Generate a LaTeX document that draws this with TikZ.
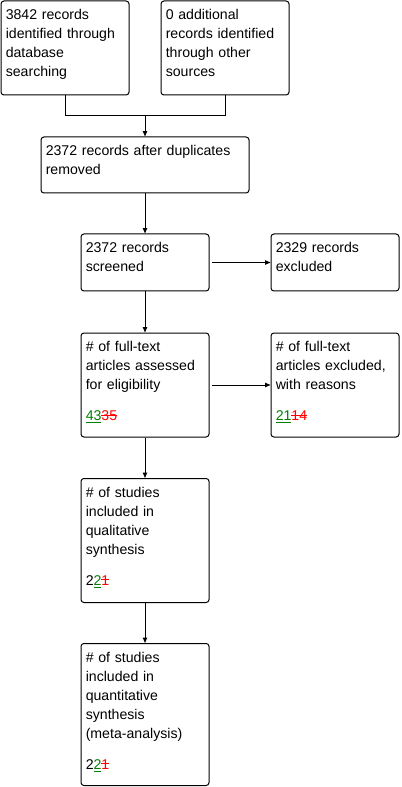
\documentclass[tikz,border=0pt]{standalone}
\usepackage{fontspec}
\setmainfont{Liberation Sans}
\usetikzlibrary{arrows.meta,calc}
\definecolor{okgreen}{RGB}{0,128,0}
\definecolor{badred}{RGB}{255,0,0}
\newsavebox\numbox
\newcommand{\addnum}[1]{\sbox\numbox{#1}\textcolor{okgreen}{\rlap{\rule[-2pt]{\wd\numbox}{0.75pt}}#1}}
\newcommand{\delnum}[1]{\sbox\numbox{#1}\textcolor{badred}{\rlap{\rule[3.4pt]{\wd\numbox}{0.75pt}}#1}}
\begin{document}
\begin{tikzpicture}[x=0.75pt,y=-0.75pt,
  box/.style={draw, line width=0.75pt, rounded corners=2.2pt, inner sep=0pt, rectangle},
  txt/.style={anchor=base west, inner sep=0pt, align=left, text width=118*0.75pt,
     font=\fontsize{10.6pt}{14.25pt}\selectfont},
  arr/.style={line width=0.75pt, -{Triangle[length=4pt,width=3.2pt]}},
  ln/.style={line width=0.75pt}]
\useasboundingbox (0,0) rectangle (402,787);
% boxes
\node[box, minimum width=128*0.75pt, minimum height=94*0.75pt] (A) at (65,48) {};
\node[box, minimum width=128*0.75pt, minimum height=94*0.75pt] (B) at (225,48) {};
\node[box, minimum width=208*0.75pt, minimum height=56*0.75pt] (C) at (145,165) {};
\node[box, minimum width=128*0.75pt, minimum height=57*0.75pt] (D) at (145,262.5) {};
\node[box, minimum width=128*0.75pt, minimum height=57*0.75pt] (E) at (335,262.5) {};
\node[box, minimum width=128*0.75pt, minimum height=104*0.75pt] (F) at (145,385) {};
\node[box, minimum width=128*0.75pt, minimum height=104*0.75pt] (G) at (335,385) {};
\node[box, minimum width=128*0.75pt, minimum height=124*0.75pt] (H) at (145,540.5) {};
\node[box, minimum width=128*0.75pt, minimum height=142*0.75pt] (I) at (145,714.5) {};
% texts
\node[txt] (At) at ($(A.north west)+(5,19)$) {3842 records\\identified through\\database\\searching};
\node[txt] (Bt) at ($(B.north west)+(5,19)$) {0 additional\\records identified\\through other\\sources};
\node[txt, text width=198*0.75pt] (Ct) at ($(C.north west)+(5,19)$) {2372 records after duplicates\\removed};
\node[txt] (Dt) at ($(D.north west)+(5,19)$) {2372 records\\screened};
\node[txt] (Et) at ($(E.north west)+(5,19)$) {2329 records\\excluded};
\node[txt] (Ft) at ($(F.north west)+(5,19)$) {\# of full-text\\articles assessed\\for eligibility\\[9pt]\addnum{43}\delnum{35}};
\node[txt] (Gt) at ($(G.north west)+(5,19)$) {\# of full-text\\articles excluded,\\with reasons\\[9pt]\addnum{21}\delnum{14}};
\node[txt] (Ht) at ($(H.north west)+(5,19)$) {\# of studies\\included in\\qualitative\\synthesis\\[9pt]2\addnum{2}\delnum{1}};
\node[txt] (It) at ($(I.north west)+(5,19)$) {\# of studies\\included in\\quantitative\\synthesis\\(meta-analysis)\\[9pt]2\addnum{2}\delnum{1}};
% connectors
\coordinate (J) at (145,116);
\draw[ln] (A.south) -- (A.south |- J) -- (B.south |- J) -- (B.south);
\draw[arr] (J) -- (C.north);
\draw[arr] (C.south) -- (D.north);
\draw[arr, shorten <=1.5pt] (D.east) -- (E.west);
\draw[arr] (D.south) -- (F.north);
\draw[arr, shorten <=1.5pt] (F.east) -- (G.west);
\draw[arr] (F.south) -- (H.north);
\draw[arr] (H.south) -- (I.north);
\end{tikzpicture}
\end{document}
